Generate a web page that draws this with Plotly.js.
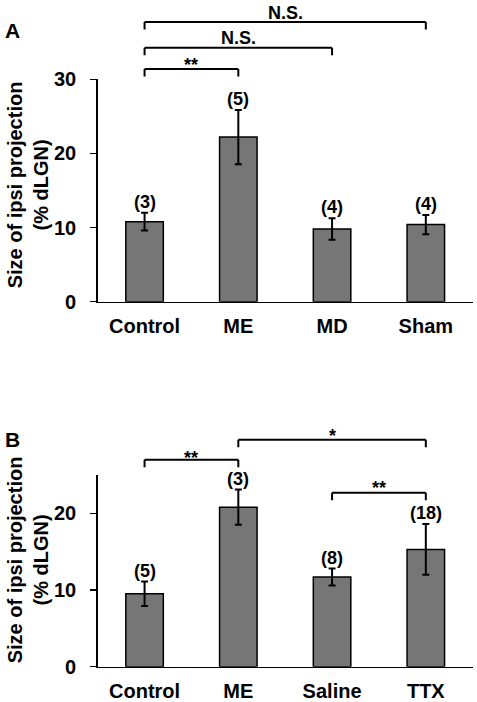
<!DOCTYPE html>
<html><head><meta charset="utf-8">
<script src="https://cdn.plot.ly/plotly-3.0.1.min.js"></script>
<style>html,body{margin:0;padding:0;background:#fff}#chart{width:477px;height:702px}</style>
</head><body><div id="chart"></div>
<script>
// ---- data ----
const categoriesA = ['Control', 'ME', 'MD', 'Sham'];
const meansA = [10.8, 22.2, 9.8, 10.4];
const errorsA = [1.2, 3.65, 1.45, 1.3];
const countsA = ['(3)', '(5)', '(4)', '(4)'];
const yTicksA = [0, 10, 20, 30];

const categoriesB = ['Control', 'ME', 'Saline', 'TTX'];
const meansB = [9.5, 20.8, 11.7, 15.3];
const errorsB = [1.6, 2.3, 1.1, 3.3];
const countsB = ['(5)', '(3)', '(8)', '(18)'];
const yTicksB = [0, 10, 20];

const comparisonsA = [
  {from: 'Control', to: 'Sham', label: 'N.S.'},
  {from: 'Control', to: 'MD', label: 'N.S.'},
  {from: 'Control', to: 'ME', label: '**'}
];
const comparisonsB = [
  {from: 'ME', to: 'TTX', label: '*'},
  {from: 'Control', to: 'ME', label: '**'},
  {from: 'Saline', to: 'TTX', label: '**'}
];

// ---- styling / layout positions (pixels) ----
const W = 477, H = 702;
const bracketPxA = [22, 47.7, 69];
const labelPxA = [12.7, 38, 64.5];
const bracketPxB = [439.7, 459.7, 492.7];
const labelPxB = [436.3, 458, 488];
const tickDrop = 7.5;
const py = p => 1 - p / H;

const FONT = 'Liberation Sans, Arial, Helvetica, sans-serif';
const barColor = '#767676';
const annFont = {family: FONT, size: 18, weight: 'bold', color: '#000'};

function barTrace(cats, vals, errs, xa, ya) {
  return {
    type: 'bar', x: cats, y: vals, xaxis: xa, yaxis: ya, width: 0.4,
    marker: {color: barColor, line: {color: '#000', width: 1.5}},
    error_y: {type: 'data', array: errs, visible: true, color: '#000', thickness: 2, width: 3.5},
    hoverinfo: 'none', showlegend: false
  };
}

const shapes = [];
const annotations = [];

function addBrackets(comps, cats, bracketPx, labelPx, xref) {
  comps.forEach((c, i) => {
    const x0 = cats.indexOf(c.from), x1 = cats.indexOf(c.to);
    const yTop = py(bracketPx[i]), yBot = py(bracketPx[i] + tickDrop);
    const line = {color: '#000', width: 2};
    shapes.push({type: 'line', xref: xref, yref: 'paper', x0: x0, x1: x1, y0: yTop, y1: yTop, line: line});
    shapes.push({type: 'line', xref: xref, yref: 'paper', x0: x0, x1: x0, y0: yTop, y1: yBot, line: line});
    shapes.push({type: 'line', xref: xref, yref: 'paper', x0: x1, x1: x1, y0: yTop, y1: yBot, line: line});
    annotations.push({xref: xref, yref: 'paper', x: (x0 + x1) / 2, y: py(labelPx[i]), text: c.label,
      showarrow: false, xanchor: 'center', yanchor: 'middle', font: annFont});
  });
}
addBrackets(comparisonsA, categoriesA, bracketPxA, labelPxA, 'x');
addBrackets(comparisonsB, categoriesB, bracketPxB, labelPxB, 'x2');

function addCounts(cats, vals, errs, counts, xref, yref) {
  cats.forEach((c, i) => {
    annotations.push({xref: xref, yref: yref, x: c, y: vals[i] + errs[i], text: counts[i],
      showarrow: false, xanchor: 'center', yanchor: 'bottom', yshift: -1, font: annFont});
  });
}
addCounts(categoriesA, meansA, errorsA, countsA, 'x', 'y');
addCounts(categoriesB, meansB, errorsB, countsB, 'x2', 'y2');

// panel letters
const letterFont = {family: FONT, size: 21, weight: 'bold', color: '#000'};
annotations.push({xref: 'paper', yref: 'paper', x: 12 / W, y: py(31), text: 'A', showarrow: false,
  xanchor: 'center', yanchor: 'middle', font: letterFont});
annotations.push({xref: 'paper', yref: 'paper', x: 12 / W, y: py(439), text: 'B', showarrow: false,
  xanchor: 'center', yanchor: 'middle', font: letterFont});

// y axis titles
const yTitle = 'Size of ipsi projection<br>(% dLGN)';
const titleFont = {family: FONT, size: 20, weight: 'bold', color: '#000'};
annotations.push({xref: 'paper', yref: 'paper', x: 28.3 / W, y: py(185), text: yTitle, textangle: -90,
  showarrow: false, xanchor: 'center', yanchor: 'middle', font: titleFont});
annotations.push({xref: 'paper', yref: 'paper', x: 28.3 / W, y: py(560), text: yTitle, textangle: -90,
  showarrow: false, xanchor: 'center', yanchor: 'middle', font: titleFont});

const tickFont = {family: FONT, size: 20, weight: 'bold', color: '#000'};
const xDomain = [97.7 / W, 472.7 / W];

function xAxis(anchor) {
  return {domain: xDomain, anchor: anchor, type: 'category', range: [-0.5, 3.5],
    showline: true, linecolor: '#000', linewidth: 1.5, ticks: '', showgrid: false, zeroline: false,
    tickfont: tickFont, ticklabelstandoff: 6, fixedrange: true};
}
function yAxis(anchor, domain, range, tickvals) {
  return {domain: domain, anchor: anchor, range: range, tickvals: tickvals,
    showline: true, linecolor: '#000', linewidth: 1.5, ticks: 'outside', ticklen: 6, tickwidth: 1.5,
    tickcolor: '#000', showgrid: false, zeroline: false, tickfont: tickFont, ticklabelstandoff: 10,
    fixedrange: true};
}

const layout = {
  width: W, height: H, margin: {l: 0, r: 0, t: 0, b: 0},
  paper_bgcolor: '#fff', plot_bgcolor: '#fff', showlegend: false,
  font: {family: FONT, color: '#000'},
  xaxis: xAxis('y'),
  yaxis: yAxis('x', [py(301.7), py(79.3)], [0, 30], yTicksA),
  xaxis2: xAxis('y2'),
  yaxis2: yAxis('x2', [py(666.7), py(475)], [0, 25], yTicksB),
  shapes: shapes,
  annotations: annotations
};

Plotly.newPlot('chart', [
  barTrace(categoriesA, meansA, errorsA, 'x', 'y'),
  barTrace(categoriesB, meansB, errorsB, 'x2', 'y2')
], layout, {staticPlot: true, displayModeBar: false});
</script>
</body></html>
